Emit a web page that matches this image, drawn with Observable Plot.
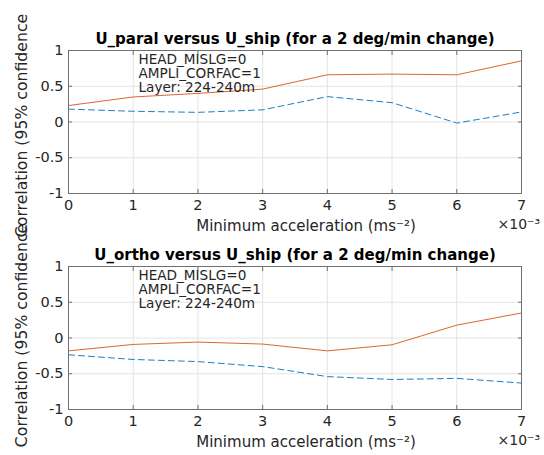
<!DOCTYPE html>
<html>
<head>
<meta charset="utf-8">
<script src="https://cdn.jsdelivr.net/npm/d3@7"></script>
<script src="https://cdn.jsdelivr.net/npm/@observablehq/plot@0.6"></script>
<style>
  html, body { margin: 0; padding: 0; background: #fff; width: 544px; height: 455px; overflow: hidden; }
  #chart svg { display: block; overflow: visible; }
</style>
</head>
<body>
<div id="chart"></div>
<script>
// Minimum acceleration thresholds (m s^-2)
const accel = [0, 0.001, 0.002, 0.003, 0.004, 0.005, 0.006, 0.007];

// Confidence bounds of the correlation, U_paral vs U_ship
const paralUpper = [0.23, 0.35, 0.40, 0.46, 0.66, 0.67, 0.66, 0.855];
const paralLower = [0.18, 0.15, 0.135, 0.17, 0.355, 0.27, -0.015, 0.14];

// Confidence bounds of the correlation, U_ortho vs U_ship
const orthoUpper = [-0.18, -0.09, -0.057, -0.085, -0.18, -0.095, 0.18, 0.35];
const orthoLower = [-0.235, -0.30, -0.33, -0.40, -0.54, -0.58, -0.565, -0.63];

const xTicks = [0, 0.001, 0.002, 0.003, 0.004, 0.005, 0.006, 0.007];
const yTicks = [-1, -0.5, 0, 0.5, 1];

const titles = [
  "U_paral versus U_ship (for a 2 deg/min change)",
  "U_ortho versus U_ship (for a 2 deg/min change)"
];
const infoLines = ["HEAD_MISLG=0", "AMPLI_CORFAC=1", "Layer: 224-240m"];
const xLabel = "Minimum acceleration (ms\u207B\u00B2)";
const xExponent = "\u00D710\u207B\u00B3";
const yLabel = "Correlation (95% confidence";

const font = "DejaVu Sans, sans-serif";
const red = "#D95319";
const blue = "#0072BD";
const ink = "#262626";
const axisGray = "#707070";
const gridGray = "#e4e4e4";

function rows(values) {
  return accel.map((a, i) => ({a, r: values[i]}));
}

function panel(title, upper, lower, height, marginBottom, yLabelShift) {
  return Plot.plot({
    width: 544,
    height,
    marginLeft: 68,
    marginRight: 23,
    marginTop: 50,
    marginBottom,
    style: {background: "transparent", overflow: "visible", fontFamily: font, fontSize: "14px", color: ink},
    x: {domain: [0, 0.007]},
    y: {domain: [-1, 1]},
    marks: [
      Plot.gridX(xTicks, {stroke: gridGray, strokeOpacity: 1}),
      Plot.gridY(yTicks, {stroke: gridGray, strokeOpacity: 1}),
      Plot.line(rows(upper), {x: "a", y: "r", stroke: red, strokeWidth: 0.9}),
      Plot.line(rows(lower), {x: "a", y: "r", stroke: blue, strokeWidth: 0.9, strokeDasharray: "6,4"}),
      Plot.frame({stroke: axisGray, strokeWidth: 1}),
      // tick labels
      Plot.axisX(xTicks, {anchor: "bottom", tickSize: 0, tickPadding: 6, label: null,
        tickFormat: d => String(Math.round(d * 1000)), fontSize: 14.5, fill: ink}),
      Plot.axisY(yTicks, {anchor: "left", tickSize: 0, tickPadding: 5, label: null,
        tickFormat: d => String(d), fontSize: 14.5, fill: ink}),
      // inward ticks on all four sides
      Plot.axisX(xTicks, {anchor: "bottom", tickSize: -4, tickFormat: () => "", label: null, stroke: axisGray}),
      Plot.axisX(xTicks, {anchor: "top", tickSize: -4, tickFormat: () => "", label: null, stroke: axisGray}),
      Plot.axisY(yTicks, {anchor: "left", tickSize: -4, tickFormat: () => "", label: null, stroke: axisGray}),
      Plot.axisY(yTicks, {anchor: "right", tickSize: -4, tickFormat: () => "", label: null, stroke: axisGray}),
      // title
      Plot.text([title], {frameAnchor: "top", lineAnchor: "middle", dy: -11,
        fontWeight: "bold", fontSize: 15, fill: "#000"}),
      // annotation
      Plot.text([infoLines.join("\n")], {frameAnchor: "top-left", textAnchor: "start", lineAnchor: "top",
        dx: 70, dy: 4, lineHeight: 1.03, fontSize: 13.6, fill: ink}),
      // axis labels
      Plot.text([xLabel], {frameAnchor: "bottom", lineAnchor: "middle", dy: 33, dx: 11, fontSize: 15, fill: ink}),
      Plot.text([xExponent], {frameAnchor: "bottom-right", textAnchor: "start", lineAnchor: "middle",
        dy: 31, dx: -24, fontSize: 14, fill: ink}),
      Plot.text([yLabel], {frameAnchor: "left", rotate: -90, textAnchor: "middle", lineAnchor: "middle",
        dx: -47, dy: yLabelShift, fontSize: 15.7, fill: ink})
    ]
  });
}

const root = document.getElementById("chart");
root.append(panel(titles[0], paralUpper, paralLower, 216, 23, 3.5));
root.append(panel(titles[1], orthoUpper, orthoLower, 239, 46, -2.5));
</script>
</body>
</html>
